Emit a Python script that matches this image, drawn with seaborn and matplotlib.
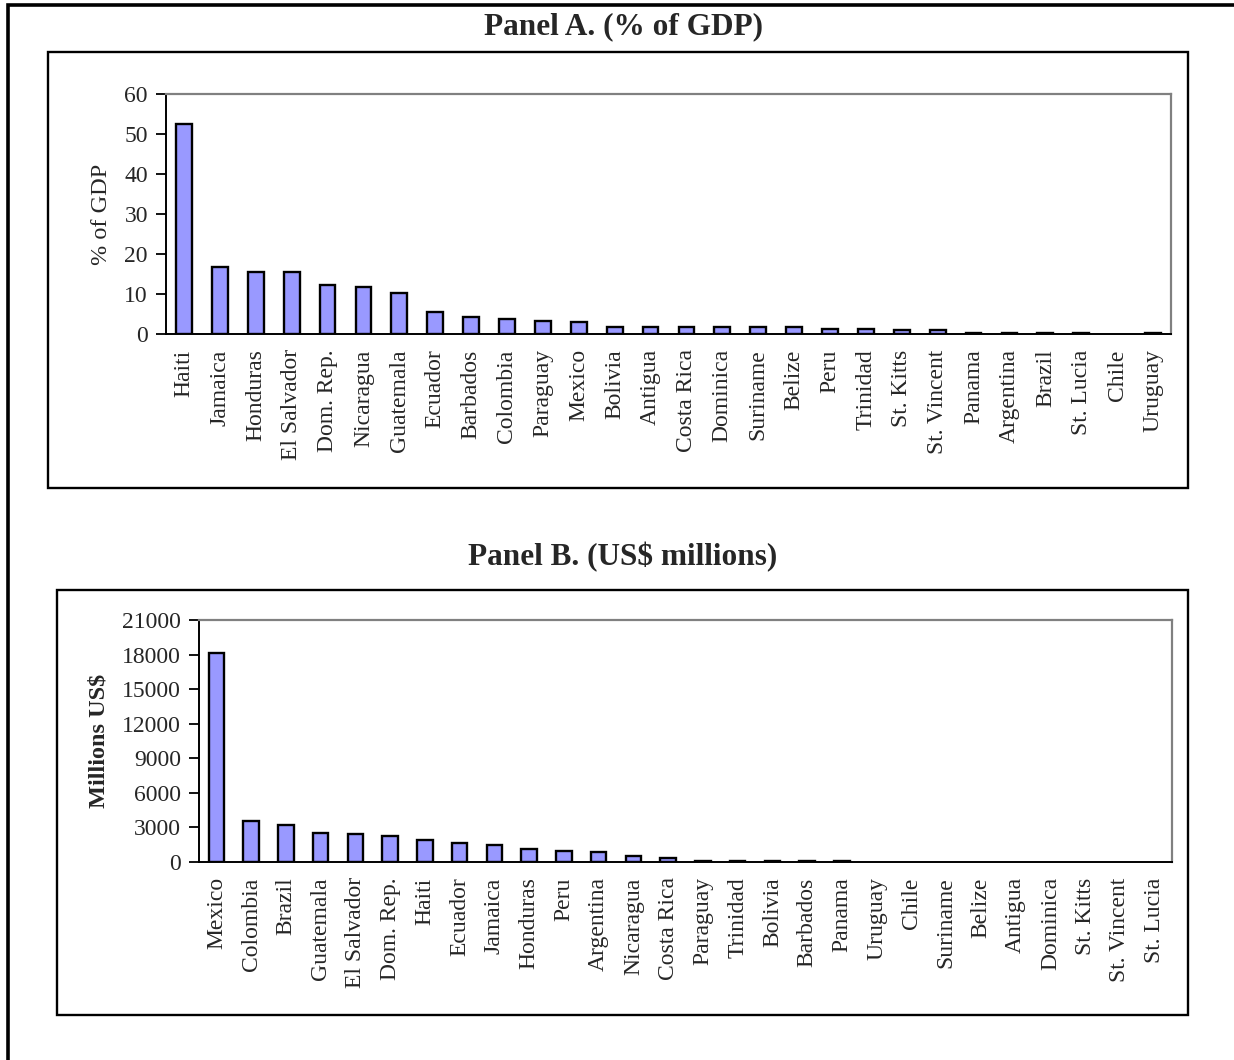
import seaborn as sns
import pandas as pd
import matplotlib.pyplot as plt
from matplotlib.patches import Rectangle

# Panel A - % of GDP
countries_a = ["Haiti", "Jamaica", "Honduras", "El Salvador", "Dom. Rep.",
               "Nicaragua", "Guatemala", "Ecuador", "Barbados", "Colombia",
               "Paraguay", "Mexico", "Bolivia", "Antigua", "Costa Rica",
               "Dominica", "Suriname", "Belize", "Peru", "Trinidad",
               "St. Kitts", "St. Vincent", "Panama", "Argentina", "Brazil",
               "St. Lucia", "Chile", "Uruguay"]
gdp_share = [52.6, 16.8, 15.5, 15.5, 12.2, 11.7, 10.3, 5.6, 4.2, 3.7,
             3.3, 2.9, 1.8, 1.8, 1.8, 1.8, 1.8, 1.8, 1.3, 1.3,
             0.9, 0.9, 0.3, 0.3, 0.3, 0.3, 0.0, 0.3]
yticks_a = [0, 10, 20, 30, 40, 50, 60]

# Panel B - US$ millions
countries_b = ["Mexico", "Colombia", "Brazil", "Guatemala", "El Salvador",
               "Dom. Rep.", "Haiti", "Ecuador", "Jamaica", "Honduras",
               "Peru", "Argentina", "Nicaragua", "Costa Rica", "Paraguay",
               "Trinidad", "Bolivia", "Barbados", "Panama", "Uruguay",
               "Chile", "Suriname", "Belize", "Antigua", "Dominica",
               "St. Kitts", "St. Vincent", "St. Lucia"]
usd_millions = [18100, 3550, 3200, 2550, 2400, 2250, 1900, 1620, 1450, 1130,
                980, 840, 490, 320, 100, 90, 90, 90, 90, 0,
                0, 0, 0, 0, 0, 0, 0, 0]
yticks_b = [0, 3000, 6000, 9000, 12000, 15000, 18000, 21000]

sns.set_style("white")
plt.rcParams["font.family"] = ["Liberation Serif", "DejaVu Serif"]

W, H = 1234, 1060
fig = plt.figure(figsize=(W / 100, H / 100), dpi=100)


def fx(px):
    return px / W


def fy(py):
    return 1 - py / H


def draw_panel(rect, cats, vals, yticks, ylabel, ylabel_bold, label_x):
    ax = fig.add_axes(rect)
    df = pd.DataFrame({"country": cats, "value": vals})
    sns.barplot(data=df, x="country", y="value", color="#9999FF",
                edgecolor="black", linewidth=1.7, width=0.44,
                saturation=1, ax=ax)
    # zero bars are not drawn at all
    for p in ax.patches:
        if p.get_height() == 0:
            p.set_edgecolor("none")
    ax.set_xlim(-0.5, len(cats) - 0.5)
    ax.set_ylim(yticks[0], yticks[-1])
    ax.set_yticks(yticks)
    ax.set_yticklabels([str(t) for t in yticks], fontsize=17)
    ax.set_xticks(range(len(cats)))
    ax.set_xticklabels(cats, rotation=90, fontsize=17)
    ax.set_xticks([i - 0.5 for i in range(len(cats) + 1)], minor=True)
    ax.tick_params(axis="x", which="major", length=0, pad=11)
    ax.tick_params(axis="x", which="minor", length=7, width=1.3,
                   direction="out", color="black")
    ax.tick_params(axis="y", which="major", length=7, width=1.3,
                   direction="out", color="black", left=True, pad=6)
    ax.set_xlabel("")
    ax.set_ylabel(ylabel, fontsize=17.5,
                  fontweight="bold" if ylabel_bold else "normal")
    ax.yaxis.set_label_coords(label_x, 0.5)
    for s in ["left", "bottom"]:
        ax.spines[s].set_color("black")
        ax.spines[s].set_linewidth(1.4)
    for s in ["top", "right"]:
        ax.spines[s].set_color("#808080")
        ax.spines[s].set_linewidth(1.6)
    return ax


# Panel A
rect_a = [fx(166), fy(334), fx(1171) - fx(166), fy(94) - fy(334)]
draw_panel(rect_a, countries_a, gdp_share, yticks_a, "% of GDP", False, -0.054)

# Panel B
rect_b = [fx(199), fy(862), fx(1172) - fx(199), fy(620) - fy(862)]
draw_panel(rect_b, countries_b, usd_millions, yticks_b, "Millions US$", True, -0.092)

# titles
fig.text(fx(624), fy(27), "Panel A. (% of GDP)", ha="center", va="center",
         fontsize=22.5, fontweight="bold")
fig.text(fx(623), fy(557), "Panel B. (US$ millions)", ha="center", va="center",
         fontsize=22.5, fontweight="bold")

# chart frames and outer border
frames = [(48, 52, 1188, 488, 1.7), (57, 590, 1188, 1015, 1.7),
          (8, 5, 1245, 1075, 2.6)]
for x0, y0, x1, y1, lw in frames:
    fig.patches.append(Rectangle((fx(x0), fy(y1)), fx(x1) - fx(x0),
                                 fy(y0) - fy(y1), transform=fig.transFigure,
                                 fill=False, edgecolor="black", linewidth=lw,
                                 clip_on=False))

fig.savefig("out.png", dpi=100)
